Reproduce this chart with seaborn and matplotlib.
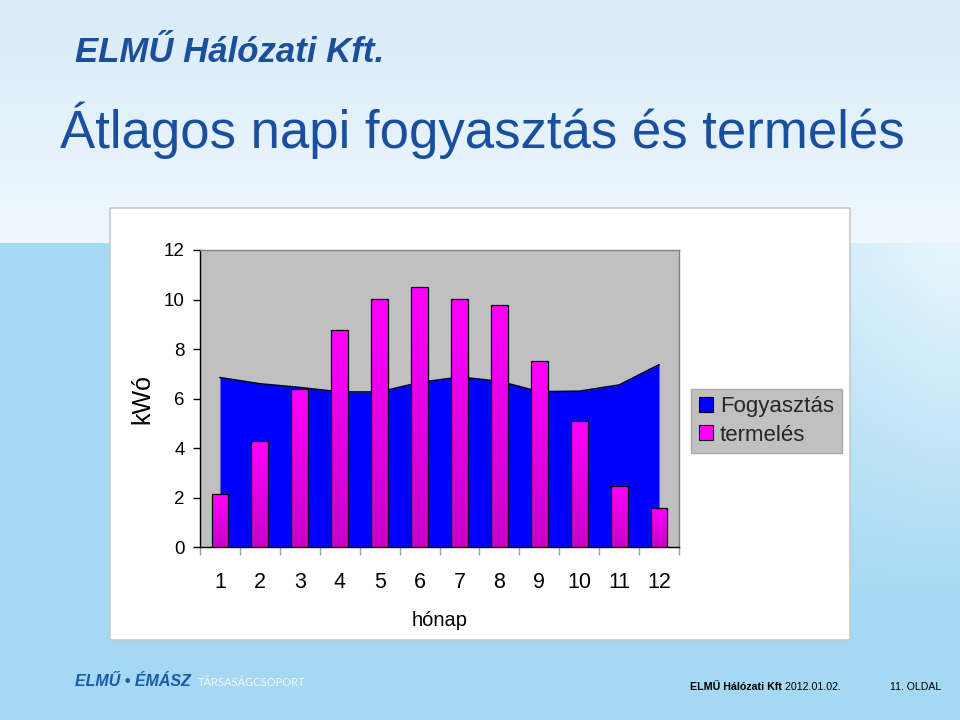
import numpy as np
import pandas as pd
import matplotlib
matplotlib.use("Agg")
import matplotlib.pyplot as plt
import seaborn as sns
from matplotlib.patches import Rectangle, Patch
from matplotlib.colors import LinearSegmentedColormap

# ---- data ----
honap = [1, 2, 3, 4, 5, 6, 7, 8, 9, 10, 11, 12]
fogyasztas = [6.85, 6.60, 6.45, 6.27, 6.27, 6.65, 6.87, 6.70, 6.28, 6.30, 6.55, 7.37]
termeles = [2.15, 4.28, 6.40, 8.76, 10.01, 10.52, 10.03, 9.78, 7.53, 5.10, 2.49, 1.60]
yticks = [0, 2, 4, 6, 8, 10, 12]
series_names = ["Fogyasztás", "termelés"]

sns.set_theme(style="white")
plt.rcParams["font.family"] = ["Liberation Sans", "DejaVu Sans"]

fig = plt.figure(figsize=(9.6, 7.2), dpi=100)

# ---- slide background ----
bg = fig.add_axes([0, 0, 1, 1], zorder=-10)
H, W = 720, 960
yy, xx = np.mgrid[0:H, 0:W]
top_c = np.array([0.850, 0.922, 0.972])
top_c2 = np.array([0.935, 0.970, 0.992])
low_c = np.array([0.650, 0.850, 0.955])
low_l = np.array([0.900, 0.960, 0.990])
ty = np.clip(yy / 243.0, 0, 1)[..., None]
upper = top_c * (1 - ty) + top_c2 * ty
t = (np.clip((xx - 560) / 380.0, 0, 1) * np.clip((600 - yy) / 340.0, 0, 1))[..., None]
lower = low_c * (1 - t) + low_l * t
img = np.where((yy < 243)[..., None], upper, lower)
bg.imshow(img, extent=[0, 1, 0, 1], aspect="auto", origin="upper")
bg.set_xlim(0, 1)
bg.set_ylim(0, 1)
bg.axis("off")
bg.add_patch(Rectangle((110 / 960, 1 - 640 / 720), 740 / 960, 432 / 720,
                       transform=bg.transAxes, facecolor="white",
                       edgecolor="#C8C8C8", lw=1.2, zorder=5))

# ---- header / footer texts ----
fig.text(75 / 960, 1 - 62 / 720, "ELMŰ Hálózati Kft.",
         fontweight="bold", fontstyle="italic", fontsize=25, color="#1B4F9C",
         va="baseline", ha="left")
fig.text(60 / 960, 1 - 148 / 720, "Átlagos napi fogyasztás és termelés",
         fontsize=38, color="#1A4E9E", va="baseline", ha="left")
fig.text(75 / 960, 1 - 686 / 720, "ELMŰ • ÉMÁSZ",
         fontweight="bold", fontstyle="italic", fontsize=11.5, color="#1B5AA8",
         va="baseline", ha="left")
fig.text(198 / 960, 1 - 686 / 720, "TÁRSASÁGCSOPORT", family=["Lato", "DejaVu Sans"],
         fontsize=8, color="#F4F8FB", va="baseline", ha="left")
t1 = fig.text(690 / 960, 1 - 690 / 720, "ELMŰ Hálózati Kft", fontweight="bold",
              fontsize=7.7, color="black", va="baseline", ha="left")
fig.add_artist(matplotlib.text.Annotation(" 2012.01.02.", xy=(1, 0), xycoords=t1,
                                          va="bottom", ha="left", fontsize=7.7,
                                          color="black"))
fig.text(890 / 960, 1 - 690 / 720, "11. OLDAL", fontsize=7.6, color="black",
         va="baseline", ha="left")

# ---- chart ----
ax = fig.add_axes([200 / 960, 1 - 547.3 / 720, 479 / 960, 297.3 / 720])
ax.set_facecolor("#C0C0C0")
df = pd.DataFrame({"hónap": honap, "termelés": termeles, "fogyasztás": fogyasztas})

xpos = np.arange(len(honap))
ax.fill_between(xpos, df["fogyasztás"], 0, color="#0000FF", lw=0, zorder=2)
sns.lineplot(x=xpos, y=df["fogyasztás"].values, ax=ax, color="#00003A", lw=1.2,
             zorder=2.5, legend=False)

sns.barplot(data=df, x="hónap", y="termelés", ax=ax, color="#FF00FF", width=0.42,
            edgecolor="black", linewidth=0.9, saturation=1, zorder=3)

cmap = LinearSegmentedColormap.from_list("mag", ["#C800C8", "#FF00FF"])
grad = np.linspace(0, 1, 256).reshape(-1, 1)
for p in list(ax.patches):
    x0, y0 = p.get_x(), p.get_y()
    w, h = p.get_width(), p.get_height()
    im = ax.imshow(grad, extent=[x0, x0 + w, y0, y0 + h], origin="lower",
                   aspect="auto", cmap=cmap, zorder=3.1)
    im.set_clip_path(p)
    p.set_facecolor("none")
    p.set_zorder(4)

ax.set_xlim(-0.5, len(honap) - 0.5)
ax.set_ylim(0, 12)
ax.set_aspect("auto")
ax.set_yticks(yticks)
ax.set_xticks(xpos)
ax.set_xticklabels([str(h) for h in honap])
ax.set_xticks(np.arange(len(honap) + 1) - 0.5, minor=True)
ax.tick_params(axis="y", which="major", left=True, length=5, width=1, color="black",
               direction="out", labelsize=13.5, pad=6, labelcolor="black")
ax.tick_params(axis="x", which="major", bottom=True, length=0, labelsize=15.5, pad=18,
               labelcolor="black")
ax.tick_params(axis="x", which="minor", bottom=True, length=6, width=1, color="#A0A0A0",
               direction="out")
for s in ["left", "bottom"]:
    ax.spines[s].set_color("black")
    ax.spines[s].set_linewidth(1)
for s in ["top", "right"]:
    ax.spines[s].set_color("#808080")
    ax.spines[s].set_linewidth(1)
ax.grid(False)
ax.set_xlabel("hónap", fontsize=14.5, labelpad=12.5, color="black")
ax.set_ylabel("kWó", fontsize=18, labelpad=7, color="black")

handles = [Patch(facecolor="#0000FF", edgecolor="black", lw=0.8),
           Patch(facecolor="#FF00FF", edgecolor="black", lw=0.8)]
leg = ax.legend(handles=handles, labels=series_names, loc="center left",
                bbox_to_anchor=(691 / 960, 1 - 421 / 720), bbox_transform=fig.transFigure,
                frameon=True, facecolor="#C0C0C0", edgecolor="#A8A8A8", fancybox=False,
                framealpha=1, handlelength=0.65, handleheight=0.65, handletextpad=0.3,
                borderpad=0.35, labelspacing=0.33, fontsize=16, borderaxespad=0)
leg.get_frame().set_linewidth(1)

fig.savefig("out.png", dpi=100)
